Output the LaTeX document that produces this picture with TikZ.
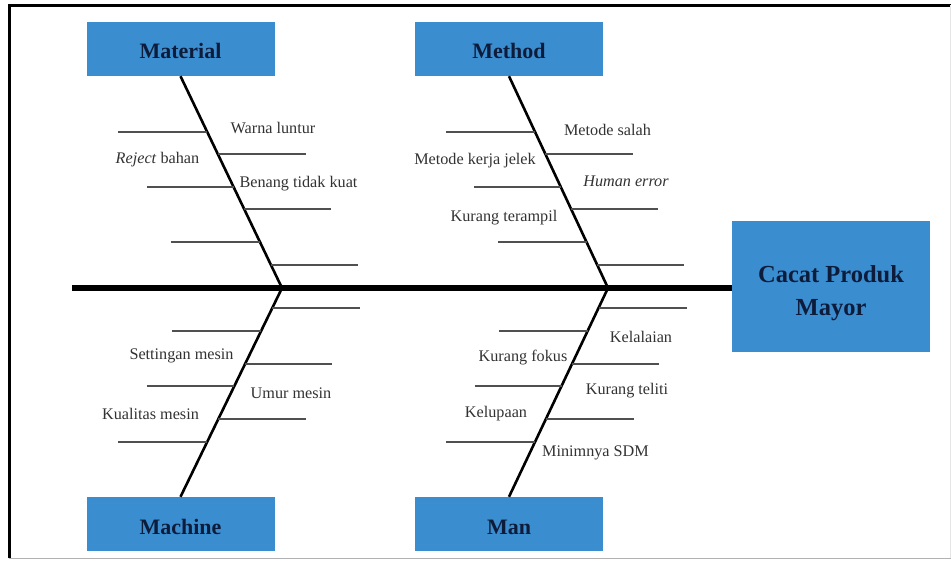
\documentclass[tikz,border=0pt]{standalone}
\usepackage{fontspec}
\setmainfont{Liberation Serif}
\usetikzlibrary{calc}
\definecolor{boxblue}{RGB}{58,141,206}
\definecolor{titlenavy}{RGB}{14,28,60}
\definecolor{labelgray}{RGB}{50,50,50}
\definecolor{ribgray}{RGB}{80,80,80}
\newcommand{\lowered}[2]{\raisebox{-#1}[\height][\depth]{#2}}
\begin{document}
\begin{tikzpicture}[x=1pt,y=-1pt,
  catbox/.style={fill=boxblue,draw=none,minimum width=188pt,minimum height=54pt,inner sep=0pt,
    text=titlenavy,font=\fontsize{22}{26}\selectfont\bfseries},
  effbox/.style={fill=boxblue,draw=none,minimum width=198pt,minimum height=131pt,inner sep=0pt,
    text=titlenavy,font=\fontsize{24.5}{33}\selectfont\bfseries},
  lbl/.style={text=labelgray,inner sep=0pt,font=\fontsize{16.2}{19}\selectfont},
  bone/.style={line width=2.6pt,black},
  spine/.style={line width=5.5pt,black},
  rib/.style={line width=1.9pt,ribgray}]
\useasboundingbox (0,0) rectangle (951,560);
% frame
\draw[line width=3pt,black] (9,558) -- (9,5) -- (951,5);
\draw[line width=1.2pt,black!30] (9,558.5) -- (951,558.5);
\draw[line width=1pt,black!10] (950,5) -- (950,558);
% boxes
\node[catbox] (mat) at (180.5,49) {\lowered{2pt}{Material}};
\node[catbox] (mth) at (509,49) {\lowered{2pt}{Method}};
\node[catbox] (mac) at (180.5,524) {\lowered{3pt}{Machine}};
\node[catbox] (man) at (509,524) {\lowered{3pt}{Man}};
\node[effbox] (eff) at (831,286.5) {\lowered{6pt}{\begin{tabular}{@{}c@{}}Cacat Produk\\Mayor\end{tabular}}};
% spine
\coordinate (sp0) at (72,288);
\coordinate (j1) at (282,288);
\coordinate (j2) at (608,288);
\draw[spine] (sp0) -- (sp0 -| eff.west);
% bones
\draw[bone] (mat.south) -- (j1);
\draw[bone] (mth.south) -- (j2);
\draw[bone] (j1) -- (mac.north);
\draw[bone] (j2) -- (man.north);
% ribs top
\foreach \b/\j in {mat/j1, mth/j2}{
  \draw[rib] ($(\b.south)!0.264!(\j)$) -- ++(-89,0);
  \draw[rib] ($(\b.south)!0.368!(\j)$) -- ++(88,0);
  \draw[rib] ($(\b.south)!0.524!(\j)$) -- ++(-87,0);
  \draw[rib] ($(\b.south)!0.627!(\j)$) -- ++(87,0);
  \draw[rib] ($(\b.south)!0.783!(\j)$) -- ++(-89,0);
  \draw[rib] ($(\b.south)!0.892!(\j)$) -- ++(87,0);
}
% ribs bottom
\foreach \b/\j in {mac/j1, man/j2}{
  \draw[rib] ($(\j)!0.096!(\b.north)$) -- ++(88,0);
  \draw[rib] ($(\j)!0.206!(\b.north)$) -- ++(-89,0);
  \draw[rib] ($(\j)!0.364!(\b.north)$) -- ++(87,0);
  \draw[rib] ($(\j)!0.469!(\b.north)$) -- ++(-87,0);
  \draw[rib] ($(\j)!0.627!(\b.north)$) -- ++(88,0);
  \draw[rib] ($(\j)!0.737!(\b.north)$) -- ++(-89,0);
}
% labels Material
\node[lbl] (l1) at (273,127.5) {Warna luntur};
\node[lbl] (l2) at (157.5,160) {\textit{Reject} bahan};
\node[lbl] (l3) at (298.5,184) {Benang tidak kuat};
% labels Method
\node[lbl] (l4) at (607.5,129.5) {Metode salah};
\node[lbl] (l5) at (475,161) {Metode kerja jelek};
\node[lbl] (l6) at (626,181) {\textit{Human error}};
\node[lbl] (l7) at (504,218) {Kurang terampil};
% labels Machine
\node[lbl] (l8) at (181.5,356) {Settingan mesin};
\node[lbl] (l9) at (291,393) {Umur mesin};
\node[lbl] (l10) at (150.5,414) {Kualitas mesin};
% labels Man
\node[lbl] (l11) at (641,337) {Kelalaian};
\node[lbl] (l12) at (523,358) {Kurang fokus};
\node[lbl] (l13) at (627,391) {Kurang teliti};
\node[lbl] (l14) at (496,414) {Kelupaan};
\node[lbl] (l15) at (595.5,453) {Minimnya SDM};
\end{tikzpicture}
\end{document}
